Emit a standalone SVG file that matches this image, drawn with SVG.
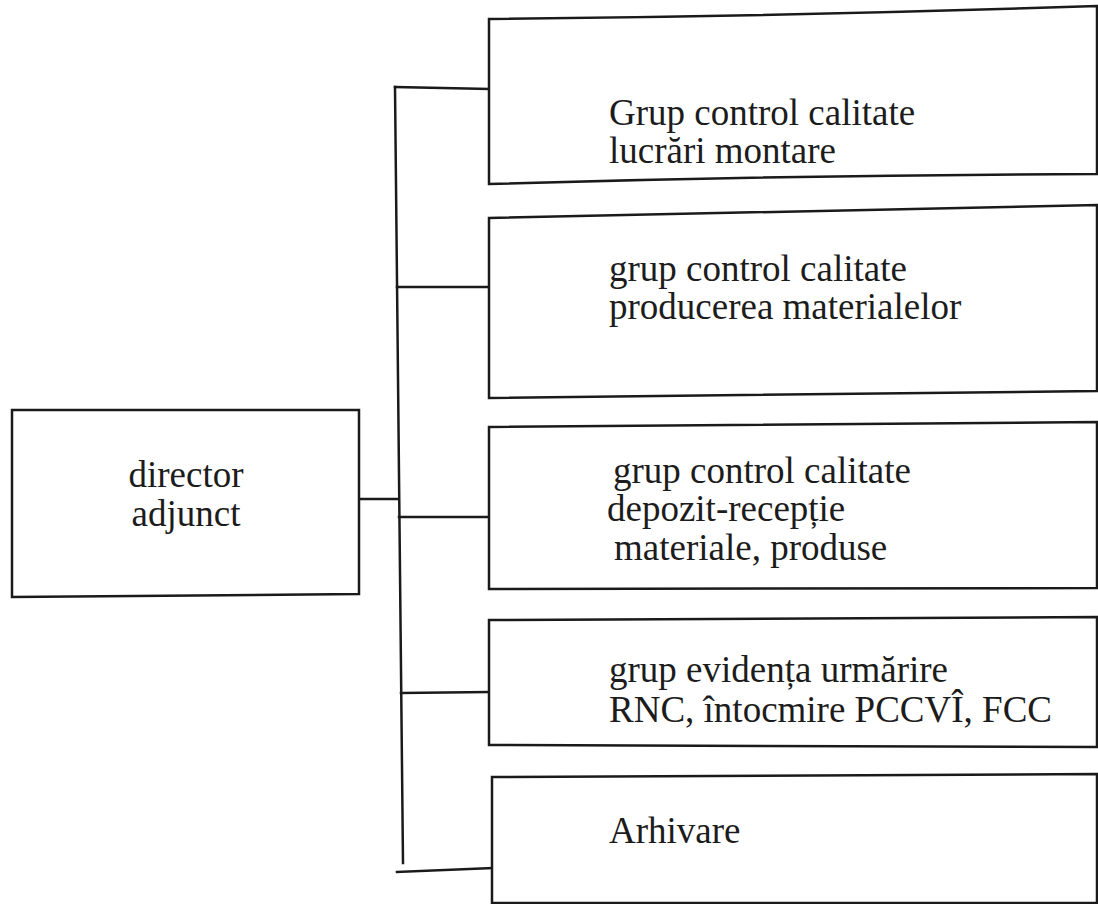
<svg xmlns="http://www.w3.org/2000/svg" width="1098" height="904" viewBox="0 0 1098 904">
<style>
.ln{fill:none;stroke:#1a1a1a;stroke-width:2.5;stroke-linecap:square}
.bx{fill:#fff;stroke:#1a1a1a;stroke-width:2.5}
.t{font-family:"Liberation Serif","Times New Roman",serif;font-size:37px;fill:#1c1c1c}
</style>
<rect width="1098" height="904" fill="#fff"/>
<g id="connectors">
<path class="ln" d="M395,87 L403,863"/>
<path class="ln" d="M395,87 L489,89"/>
<path class="ln" d="M397,287 L489,287"/>
<path class="ln" d="M360,499 L397,499"/>
<path class="ln" d="M399,517 L489,517"/>
<path class="ln" d="M401,693 L489,692"/>
<path class="ln" d="M397,872 L492,868"/>
</g>
<g id="director">
<path class="bx" d="M12,410 L359,410 L359,594 L12,597 Z"/>
<text class="t" x="186" y="487" text-anchor="middle">director</text>
<text class="t" x="186" y="526" text-anchor="middle">adjunct</text>
</g>
<g id="box1">
<path class="bx" d="M489,19 Q800,16 1097,6 L1097,174 Q800,175 489,184 Z"/>
<text class="t" x="609" y="125">Grup control calitate</text>
<text class="t" x="609" y="163">lucrări montare</text>
</g>
<g id="box2">
<path class="bx" d="M489,218 Q800,212 1097,205 L1097,391 Q800,394 489,398 Z"/>
<text class="t" x="609" y="281">grup control calitate</text>
<text class="t" x="609" y="319">producerea materialelor</text>
</g>
<g id="box3">
<path class="bx" d="M489,427 Q800,424 1097,422 L1097,588 L489,589 Z"/>
<text class="t" x="613" y="483">grup control calitate</text>
<text class="t" x="607" y="521">depozit-recepție</text>
<text class="t" x="614" y="560">materiale, produse</text>
</g>
<g id="box4">
<path class="bx" d="M489,620 Q800,618 1097,617 L1097,747 Q800,745 489,745 Z"/>
<text class="t" x="609" y="682">grup evidența urmărire</text>
<text class="t" x="609" y="722">RNC, întocmire PCCVÎ, FCC</text>
</g>
<g id="box5">
<path class="bx" d="M492,777 Q800,775 1097,774 L1097,903 L492,903 Z"/>
<text class="t" x="609" y="843">Arhivare</text>
</g>
</svg>
